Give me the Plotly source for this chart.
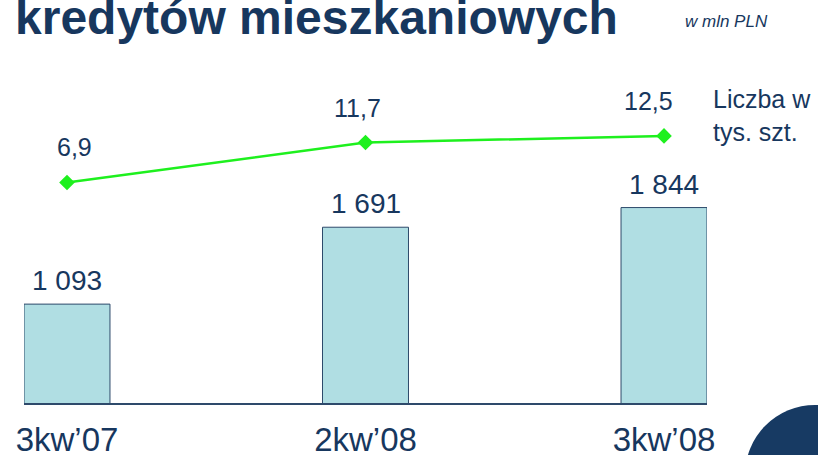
import plotly.graph_objects as go

categories = ["3kw’07", "2kw’08", "3kw’08"]
amount_mln = [1093, 1691, 1844]          # bars, w mln PLN
count_ths = [6.9, 11.7, 12.5]            # line, liczba w tys. szt.

title_text = "kredytów mieszkaniowych"
unit_text = "w mln PLN"
line_label = "Liczba w<br>tys. szt."

NAVY = "#17375E"
FONT = "Liberation Sans, Arial, sans-serif"

W, H = 818, 455
ML, MR, MT, MB = 24, 111, 80, 52
PW, PH = W - ML - MR, H - MT - MB

def px2paper_x(px):
    return (px - ML) / PW

def px2paper_y(py):
    return (H - MB - py) / PH

fig = go.Figure()
fig.add_trace(go.Bar(
    x=categories, y=amount_mln, width=0.288,
    marker=dict(color="#B0DEE3", line=dict(color="#2E4A6B", width=1)),
    hoverinfo="skip", showlegend=False,
))
fig.add_trace(go.Scatter(
    x=categories, y=count_ths, yaxis="y2", mode="lines+markers",
    line=dict(color="#1EF01E", width=2.5),
    marker=dict(symbol="diamond", size=12, color="#1EF01E"),
    hoverinfo="skip", showlegend=False, cliponaxis=False,
))

annotations = []
for c, v in zip(categories, amount_mln):
    annotations.append(dict(
        x=c, y=v, xref="x", yref="y", yanchor="bottom", yshift=6,
        text=f"{v:,}".replace(",", " "), showarrow=False,
        font=dict(family=FONT, size=28, color=NAVY),
    ))
line_xshift = [8, -8, -16]
for c, v, dx in zip(categories, count_ths, line_xshift):
    annotations.append(dict(
        x=c, y=v, xref="x", yref="y2", yanchor="bottom", yshift=19, xshift=dx,
        text=f"{v:.1f}".replace(".", ","), showarrow=False,
        font=dict(family=FONT, size=25, color=NAVY),
    ))
annotations.append(dict(
    x=px2paper_x(711), y=px2paper_y(116), xref="paper", yref="paper",
    xanchor="left", yanchor="middle", align="left", text=line_label,
    showarrow=False, font=dict(family=FONT, size=25, color=NAVY),
))
annotations.append(dict(
    x=px2paper_x(13), y=px2paper_y(46), xref="paper", yref="paper",
    xanchor="left", yanchor="bottom", text=f"<b>{title_text}</b>",
    showarrow=False, font=dict(family=FONT, size=48, color=NAVY),
))
annotations.append(dict(
    x=px2paper_x(683), y=px2paper_y(22), xref="paper", yref="paper",
    xanchor="left", yanchor="middle", text=f"<i>{unit_text}</i>",
    showarrow=False, font=dict(family=FONT, size=17, color=NAVY),
))

shapes = [dict(
    type="circle", xref="paper", yref="paper",
    x0=px2paper_x(745), x1=px2paper_x(885),
    y0=px2paper_y(545), y1=px2paper_y(405),
    fillcolor="#173A63", line=dict(width=0), layer="above",
)]

fig.update_layout(
    width=W, height=H, autosize=False,
    margin=dict(l=ML, r=MR, t=MT, b=MB, pad=0, autoexpand=False),
    paper_bgcolor="white", plot_bgcolor="white",
    font=dict(family=FONT, color=NAVY),
    xaxis=dict(
        type="category", range=[-0.144, 2.144], showgrid=False, zeroline=False,
        showline=True, linecolor="#2E4A6B", linewidth=1.5, ticks="",
        tickfont=dict(family=FONT, size=33, color=NAVY), ticklabelstandoff=7,
        fixedrange=True, automargin=False,
    ),
    yaxis=dict(range=[324, 2836], visible=False, fixedrange=True, automargin=False),
    yaxis2=dict(range=[-19.64, 19.23], overlaying="y", visible=False,
                fixedrange=True, automargin=False),
    annotations=annotations, shapes=shapes,
)

fig.write_html(
    "out.html",
    config={"displayModeBar": False},
    post_script="document.body.style.margin='0';document.body.style.overflow='hidden';",
)
